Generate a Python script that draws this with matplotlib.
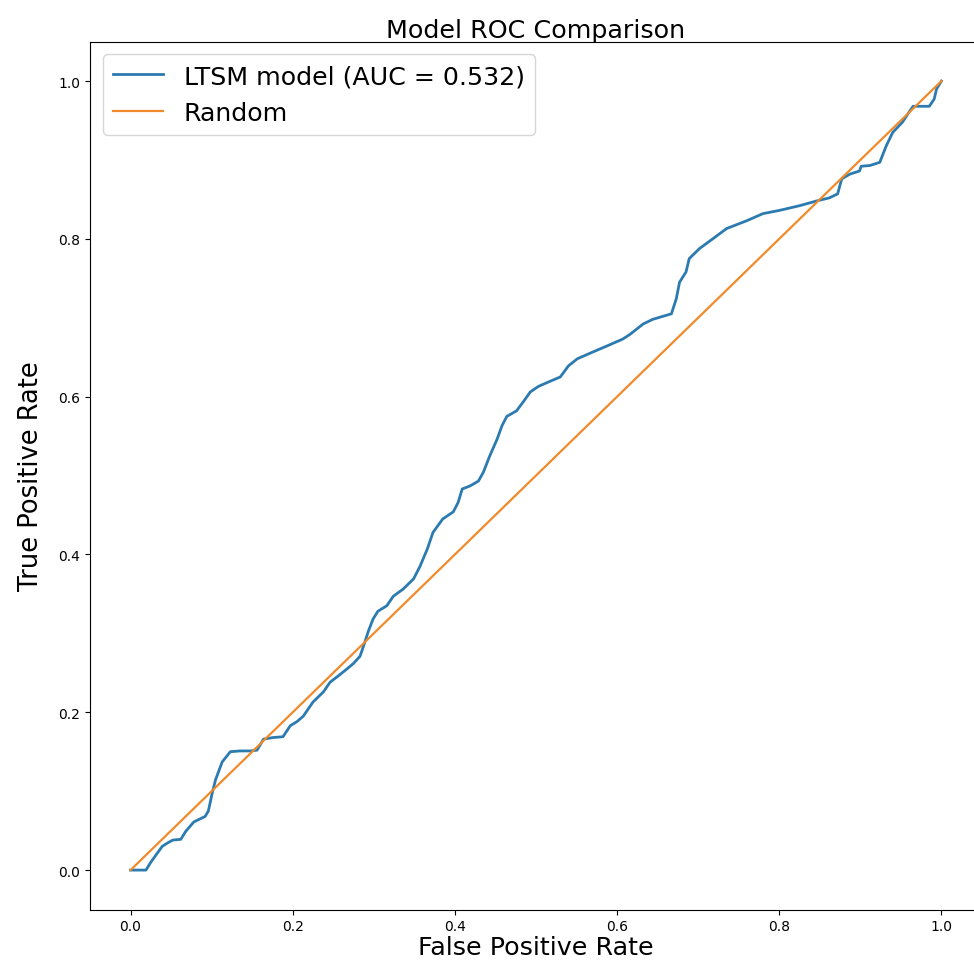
import matplotlib
matplotlib.use("Agg")
import matplotlib.pyplot as plt

# ROC points
fpr = [0.0, 0.019, 0.025, 0.032, 0.039, 0.045, 0.052, 0.062, 0.068, 0.078, 0.086, 0.092,
       0.096, 0.101, 0.105, 0.113, 0.123, 0.135, 0.148, 0.156, 0.164, 0.176, 0.188, 0.197,
       0.205, 0.213, 0.225, 0.238, 0.246, 0.256, 0.267, 0.275, 0.283, 0.289, 0.293, 0.299,
       0.305, 0.316, 0.324, 0.336, 0.349, 0.357, 0.366, 0.373, 0.385, 0.398, 0.404, 0.409,
       0.419, 0.429, 0.435, 0.443, 0.452, 0.458, 0.464, 0.476, 0.484, 0.493, 0.503, 0.514,
       0.530, 0.540, 0.551, 0.571, 0.587, 0.607, 0.616, 0.632, 0.644, 0.667, 0.673, 0.677,
       0.685, 0.689, 0.702, 0.718, 0.735, 0.760, 0.780, 0.800, 0.825, 0.846, 0.862, 0.872,
       0.877, 0.887, 0.899, 0.901, 0.912, 0.924, 0.927, 0.932, 0.940, 0.952, 0.961, 0.965,
       0.985, 0.991, 0.994, 1.0]
tpr = [0.0, 0.0, 0.010, 0.020, 0.030, 0.034, 0.038, 0.039, 0.049, 0.061, 0.065, 0.068,
       0.075, 0.099, 0.115, 0.137, 0.150, 0.151, 0.151, 0.152, 0.166, 0.168, 0.169, 0.183,
       0.188, 0.195, 0.213, 0.226, 0.238, 0.246, 0.255, 0.262, 0.271, 0.289, 0.302, 0.318,
       0.328, 0.335, 0.347, 0.356, 0.369, 0.385, 0.407, 0.428, 0.445, 0.454, 0.466, 0.483,
       0.487, 0.493, 0.504, 0.525, 0.546, 0.563, 0.575, 0.582, 0.593, 0.606, 0.613, 0.618,
       0.625, 0.639, 0.648, 0.657, 0.664, 0.673, 0.679, 0.692, 0.698, 0.705, 0.724, 0.745,
       0.758, 0.775, 0.788, 0.800, 0.813, 0.823, 0.832, 0.836, 0.842, 0.848, 0.852, 0.857,
       0.876, 0.882, 0.886, 0.892, 0.893, 0.897, 0.905, 0.918, 0.935, 0.948, 0.962, 0.968,
       0.968, 0.977, 0.990, 1.0]
auc_value = 0.532
random_line = [0.0, 1.0]

fig = plt.figure(figsize=(9.74, 9.70), dpi=100)
# the right spine sits just past the picture's edge, as in the reference crop
ax = fig.add_axes([0.0924, 0.0613, 0.9158, 0.8948])

ax.plot(fpr, tpr, color='#2b7bb0', lw=2,
        label='LTSM model (AUC = %.3f)' % auc_value)
ax.plot(random_line, random_line, color='#f08a2a', lw=1.6, label='Random')

ax.set_xlim(-0.05, 1.05)
ax.set_ylim(-0.05, 1.05)
ax.set_title('Model ROC Comparison', fontsize=18.3, pad=1)
ax.set_xlabel('False Positive Rate', fontsize=18.3, labelpad=1)
ax.set_ylabel('True Positive Rate', fontsize=18.5, labelpad=10)
ax.tick_params(labelsize=10)
ax.legend(loc='upper left', fontsize=18.2, handlelength=2)

fig.savefig('out.png', dpi=100)
